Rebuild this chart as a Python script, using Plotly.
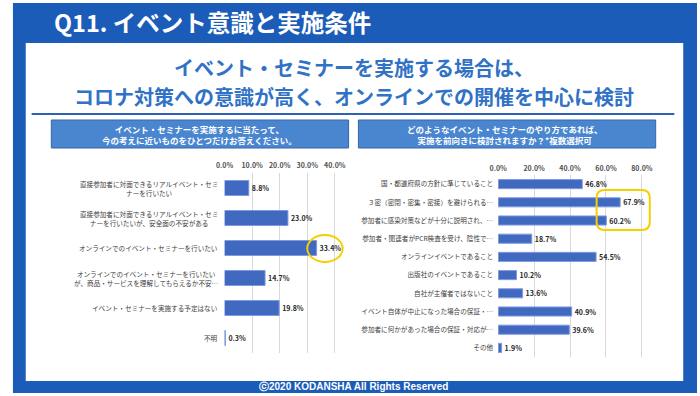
import plotly.graph_objects as go

W, H = 700, 396

# ---------------- data ----------------
left_labels = [
    "直接参加者に対面できるリアルイベント・セミ<br>ナーを行いたい",
    "直接参加者に対面できるリアルイベント・セミ<br>ナーを行いたいが、安全面の不安がある",
    "オンラインでのイベント・セミナーを行いたい",
    "オンラインでのイベント・セミナーを行いたい<br>が、商品・サービスを理解してもらえるか不安…",
    "イベント・セミナーを実施する予定はない",
    "不明",
]
left_values = [8.8, 23.0, 33.4, 14.7, 19.8, 0.3]
left_ticks = [0, 10, 20, 30, 40]
left_ticktext = ["0.0%", "10.0%", "20.0%", "30.0%", "40.0%"]

right_labels = [
    "国・都道府県の方針に準じていること",
    "３密（密閉・密集・密接）を避けられる…",
    "参加者に感染対策などが十分に説明され、…",
    "参加者・関連者がPCR検査を受け、陰性で…",
    "オンラインイベントであること",
    "出版社のイベントであること",
    "自社が主催者ではないこと",
    "イベント自体が中止になった場合の保証・…",
    "参加者に何かがあった場合の保証・対応が…",
    "その他",
]
right_values = [46.8, 67.9, 60.2, 18.7, 54.5, 10.2, 13.6, 40.9, 39.6, 1.9]
right_ticks = [0, 20, 40, 60, 80]
right_ticktext = ["0.0%", "20.0%", "40.0%", "60.0%", "80.0%"]

title_text = "Q11. イベント意識と実施条件"
heading_1 = "イベント・セミナーを実施する場合は、"
heading_2 = "コロナ対策への意識が高く、オンラインでの開催を中心に検討"
left_q = "イベント・セミナーを実施するに当たって、<br>今の考えに近いものをひとつだけお答えください。"
right_q = "どのようなイベント・セミナーのやり方であれば、<br>実施を前向きに検討されますか？*複数選択可"
footer = "ⓒ2020 KODANSHA All Rights Reserved"

# ---------------- style ----------------
JP = "Noto Sans CJK JP"
FRAME = "#1b5cb8"
HEAD = "#2f72c6"
BOX = "#4a86cf"
BOX_LINE = "#3466aa"
BAR = "#4169c0"
BAR_LINE = "#7d9be0"
GRID = "#d9d9d9"
YEL = "#f5d000"


def px(x):
    return x / W


def py(y):
    return 1 - y / H


L_X0, L_PER = 219, 2.8
L_MAX = 45
R_X0, R_PER = 497, 1.825
R_MAX = 85

fig = go.Figure()

fig.add_trace(go.Bar(
    x=left_values, y=left_labels, orientation="h",
    marker=dict(color=BAR, line=dict(color=BAR_LINE, width=1)),
    texttemplate="%{x:.1f}%", textposition="outside", cliponaxis=False,
    constraintext="none",
    textfont=dict(family=JP, size=7, color="#262626", weight="bold"),
    xaxis="x", yaxis="y", showlegend=False, hoverinfo="skip",
))
fig.add_trace(go.Bar(
    x=right_values, y=right_labels, orientation="h",
    marker=dict(color=BAR, line=dict(color=BAR_LINE, width=1)),
    texttemplate="%{x:.1f}%", textposition="outside", cliponaxis=False,
    constraintext="none",
    textfont=dict(family=JP, size=7, color="#262626", weight="bold"),
    xaxis="x2", yaxis="y2", showlegend=False, hoverinfo="skip",
))

tickfont = dict(family=JP, size=7, color="#505050", weight="bold")

fig.update_layout(
    width=W, height=H,
    margin=dict(l=0, r=0, t=0, b=0),
    paper_bgcolor="white", plot_bgcolor="rgba(0,0,0,0)",
    bargap=0.5,
    xaxis=dict(
        domain=[px(L_X0), px(L_X0 + L_MAX * L_PER)], range=[0, L_MAX],
        side="top", tickvals=left_ticks, ticktext=left_ticktext,
        showgrid=True, gridcolor=GRID, gridwidth=1, zeroline=False,
        showline=False, ticks="", tickfont=tickfont, ticklabelstandoff=3,
        anchor="y", fixedrange=True,
    ),
    yaxis=dict(
        domain=[py(353), py(173)], type="category",
        categoryorder="array", categoryarray=left_labels,
        autorange="reversed", showticklabels=False, showgrid=False,
        zeroline=False, showline=False, ticks="", anchor="x",
    ),
    xaxis2=dict(
        domain=[px(R_X0), px(R_X0 + R_MAX * R_PER)], range=[0, R_MAX],
        side="top", tickvals=right_ticks, ticktext=right_ticktext,
        showgrid=True, gridcolor=GRID, gridwidth=1, zeroline=False,
        showline=False, ticks="", tickfont=tickfont, ticklabelstandoff=2,
        anchor="y2", fixedrange=True,
    ),
    yaxis2=dict(
        domain=[py(357), py(175)], type="category",
        categoryorder="array", categoryarray=right_labels,
        autorange="reversed", showgrid=False, zeroline=False,
        showline=False, ticks="", anchor="x2",
        tickfont=dict(family=JP, size=6.6, color="#404040"),
        ticklabelstandoff=4,
    ),
)

shapes = []
# blue frame
shapes.append(dict(type="rect", xref="paper", yref="paper", layer="below",
                   x0=px(4), x1=px(699), y0=py(393), y1=py(3),
                   fillcolor=FRAME, line=dict(width=0)))
# white panel
shapes.append(dict(type="rect", xref="paper", yref="paper", layer="below",
                   x0=px(17), x1=px(685), y0=py(381), y1=py(43),
                   fillcolor="white", line=dict(width=0)))
# separator line
shapes.append(dict(type="line", xref="paper", yref="paper",
                   x0=px(23), x1=px(676), y0=py(114), y1=py(114),
                   line=dict(color="#2f62b5", width=2)))
# question boxes
for x0, x1 in [(43, 345), (355, 657)]:
    shapes.append(dict(type="rect", xref="paper", yref="paper", layer="below",
                       x0=px(x0), x1=px(x1), y0=py(148), y1=py(120),
                       fillcolor=BOX, line=dict(color=BOX_LINE, width=1)))
# yellow ellipse (left)
shapes.append(dict(type="circle", xref="paper", yref="paper",
                   x0=px(303), x1=px(339), y0=py(262), y1=py(235),
                   line=dict(color=YEL, width=2)))


# yellow rounded rect (right)
def rrect(x0, y0, x1, y1, r):
    pts = [
        f"M {px(x0 + r)},{py(y0)}",
        f"L {px(x1 - r)},{py(y0)}",
        f"Q {px(x1)},{py(y0)} {px(x1)},{py(y0 + r)}",
        f"L {px(x1)},{py(y1 - r)}",
        f"Q {px(x1)},{py(y1)} {px(x1 - r)},{py(y1)}",
        f"L {px(x0 + r)},{py(y1)}",
        f"Q {px(x0)},{py(y1)} {px(x0)},{py(y1 - r)}",
        f"L {px(x0)},{py(y0 + r)}",
        f"Q {px(x0)},{py(y0)} {px(x0 + r)},{py(y0)}",
        "Z",
    ]
    return " ".join(pts)


shapes.append(dict(type="path", xref="paper", yref="paper",
                   path=rrect(597, 190, 651, 230, 8),
                   line=dict(color=YEL, width=2)))

annotations = []
annotations.append(dict(text=title_text, xref="paper", yref="paper",
                        x=px(44), y=py(22), xanchor="left", yanchor="middle",
                        showarrow=False,
                        font=dict(family=JP, size=23.5, color="white", weight="bold")))
annotations.append(dict(text=heading_1, xref="paper", yref="paper",
                        x=0.5, y=py(67), xanchor="center", yanchor="middle",
                        showarrow=False, borderpad=0,
                        font=dict(family=JP, size=20, color=HEAD, weight="bold")))
annotations.append(dict(text=heading_2, xref="paper", yref="paper",
                        x=0.5, y=py(96), xanchor="center", yanchor="middle",
                        showarrow=False, borderpad=0,
                        font=dict(family=JP, size=20, color=HEAD, weight="bold")))
annotations.append(dict(text=left_q, xref="paper", yref="paper",
                        x=px(194), y=py(134), xanchor="center", yanchor="middle",
                        showarrow=False, align="center",
                        font=dict(family=JP, size=8.5, color="white", weight="bold")))
annotations.append(dict(text=right_q, xref="paper", yref="paper",
                        x=px(503), y=py(134), xanchor="center", yanchor="middle",
                        showarrow=False, align="center",
                        font=dict(family=JP, size=8.5, color="white", weight="bold")))
annotations.append(dict(text=footer, xref="paper", yref="paper",
                        x=0.5, y=py(386), xanchor="center", yanchor="middle",
                        showarrow=False,
                        font=dict(family="Liberation Sans Narrow, Arial Narrow, sans-serif",
                                  size=10, color="white", weight="bold")))
# left category labels (centered multi-line)
for lab in left_labels:
    annotations.append(dict(text=lab, xref="paper", yref="y",
                            x=px(214), y=lab, xanchor="right", yanchor="middle",
                            showarrow=False, align="center",
                            font=dict(family=JP, size=6.6, color="#404040")))

fig.update_layout(shapes=shapes, annotations=annotations)

fig.write_html(
    "out.html",
    config={"displayModeBar": False},
    post_script="document.body.style.margin='0';document.body.style.overflow='hidden';",
)
